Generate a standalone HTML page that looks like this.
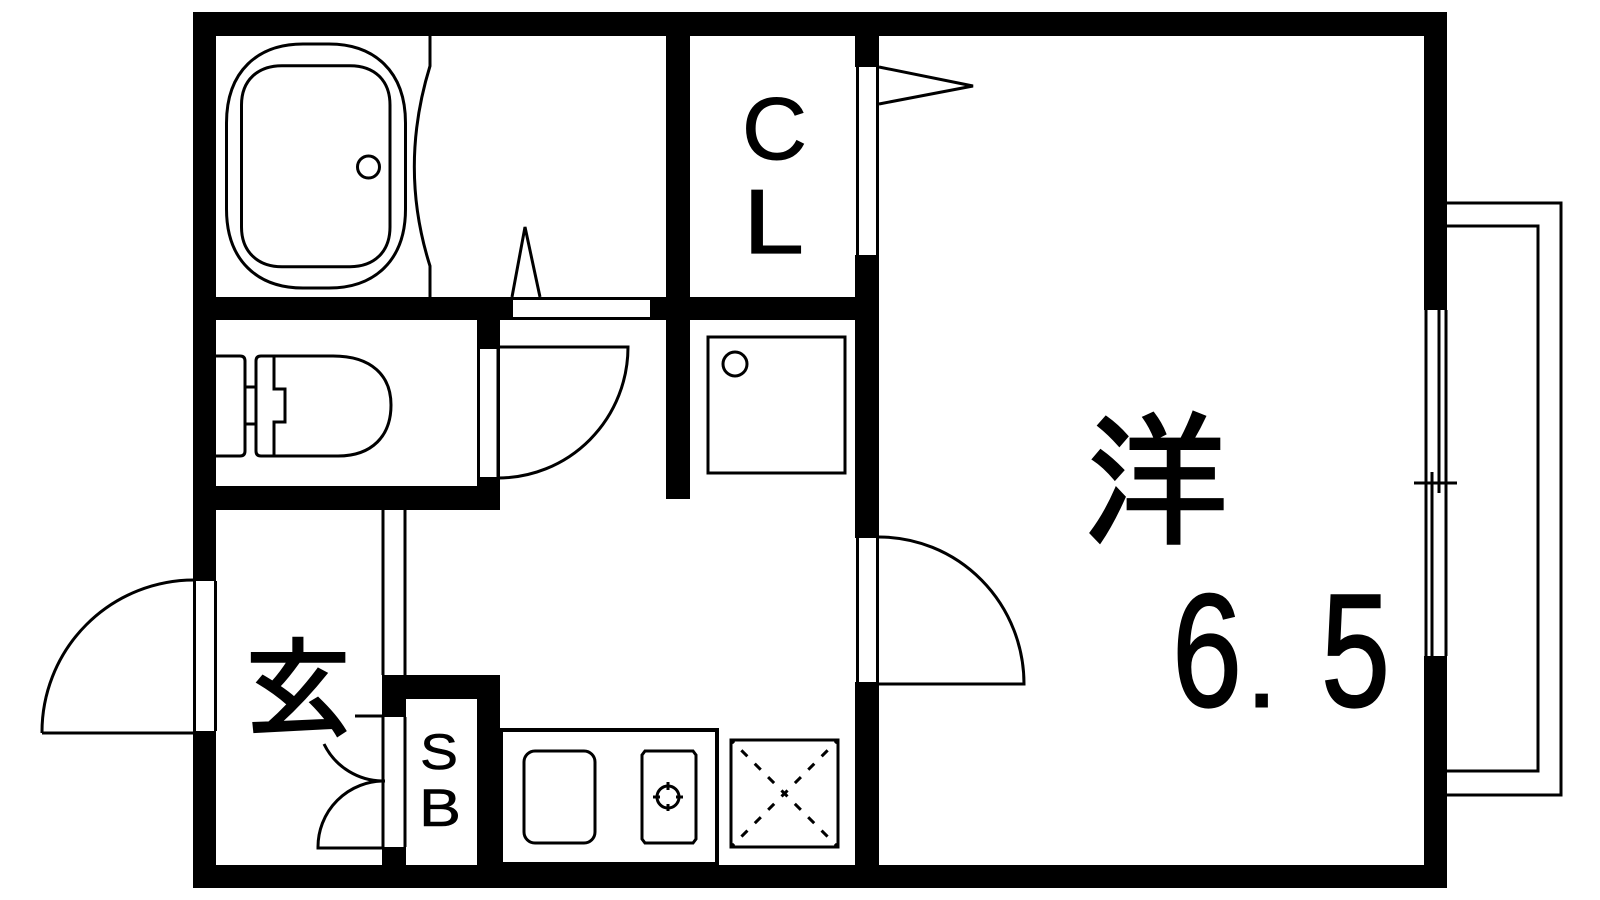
<!DOCTYPE html>
<html><head><meta charset="utf-8"><style>
html,body{margin:0;padding:0;background:#fff}svg{display:block}
</style></head><body>
<svg width="1600" height="900" viewBox="0 0 1600 900" xmlns="http://www.w3.org/2000/svg">
<rect width="1600" height="900" fill="#fff"/>
<!-- balcony -->
<g fill="none" stroke="#000" stroke-width="3">
<path d="M1447 203H1561V795H1447"/>
<path d="M1447 226H1538V771H1447"/>
</g>
<!-- walls -->
<g fill="#000">
<rect x="193" y="12" width="1254" height="24"/>
<rect x="193" y="865" width="1254" height="23"/>
<rect x="193" y="12" width="23" height="876"/>
<rect x="1424" y="12" width="23" height="876"/>
<rect x="193" y="297" width="686" height="23"/>
<rect x="666" y="36" width="24" height="463"/>
<rect x="855" y="36" width="24" height="850"/>
<rect x="193" y="486" width="307" height="24"/>
<rect x="477" y="297" width="23" height="213"/>
<rect x="382" y="675" width="118" height="24"/>
<rect x="477" y="675" width="23" height="200"/>
<rect x="382" y="675" width="24" height="200"/>
<rect x="500" y="728" width="219" height="4"/>
<rect x="500" y="728" width="3" height="140"/>
<rect x="500" y="862" width="219" height="5"/>
<rect x="715" y="728" width="4" height="138"/>
</g>
<!-- openings -->
<g fill="#fff">
<rect x="513" y="300" width="137" height="17"/>
<rect x="480" y="349" width="18" height="128"/>
<rect x="855" y="67" width="24" height="188"/>
<rect x="855" y="538" width="24" height="144"/>
<rect x="193" y="581" width="24" height="150"/>
<rect x="382" y="717" width="24" height="130"/>
<rect x="1424" y="310" width="23" height="346"/>
<rect x="382" y="510" width="24" height="165"/>
</g>
<g fill="none" stroke="#000" stroke-width="3">
<!-- wall thin lines -->
<path d="M383 510V675M405 510V675M383 717V847M405 717V847"/>
<path d="M1426 310V656M1446 310V656M1432 472V656M1439 310V493M1414 483H1457"/>
<path d="M194.500 581V731M215.500 581V731"/>
<!-- bath -->
<path d="M226.500 123C226.500 71 258 44 303 44H329C374 44 405.500 71 405.500 123V209C405.500 261 374 288 329 288H303C258 288 226.500 261 226.500 209Z"/>
<path d="M241.500 105C241.500 80 258 65.700 282 65.700H350C374 65.700 390 80 390 105V227C390 252 374 266.700 350 266.700H282C258 266.700 241.500 252 241.500 227Z"/>
<circle cx="368.500" cy="167" r="11"/>
<path d="M430 36V66C409 134 409 200 430 266V297"/>
<path d="M512 297L525 227L540 297"/>
<!-- toilet -->
<path d="M216 356H240Q245 356 245 361V451Q245 456 240 456H216"/>
<path d="M245 387H256M245 424H256"/>
<path d="M333 356C372 356 391 376 391 405C391 436 372 456 338 456H261Q256 456 256 451V361Q256 356 261 356Z"/>
<path d="M274 356V389H285V422H274V456"/>
<!-- doors -->
<path d="M498 347H628A130 131 0 0 1 498 478V347"/>
<path d="M42 733A152 152 0 0 1 194 580M42 733H194"/>
<path d="M879 537A145 147 0 0 1 1024 684H879"/>
<path d="M355 716H384M324 744A66 66 0 0 0 385 781M385 781A66 66 0 0 0 318 848H384"/>
<path d="M857.500 67V255M877.500 67V255M857.500 538V682M877.500 538V682"/>
<path d="M879 67L973 86L879 104"/>
<!-- washer -->
<rect x="708" y="337" width="137" height="136"/>
<circle cx="735" cy="364" r="12"/>
<!-- kitchen -->
<rect x="524" y="751" width="71" height="92" rx="11"/>
<path d="M645 751H693L696 755V839L693 843H645L642 839V755Z"/>
<circle cx="668" cy="797" r="11"/>
<path d="M668 782V790M668 804V811M653 797H660M676 797H683"/>
<rect x="731" y="740" width="107" height="107"/>
<path d="M731 740L838 847M838 740L731 847" stroke-dasharray="8.500 10.400" stroke-dashoffset="4.250"/>
</g>
<!-- labels -->
<g fill="#000" stroke="#000" font-family="'Liberation Sans','Noto Sans CJK JP',sans-serif">
<text x="742" y="159" font-size="88" textLength="65" lengthAdjust="spacingAndGlyphs" stroke-width="1">C</text>
<text x="743" y="253" font-size="91" textLength="61" lengthAdjust="spacingAndGlyphs" stroke-width="1.2">L</text>
<text x="420" y="769" font-size="50" textLength="38" lengthAdjust="spacingAndGlyphs" stroke-width="0.6">S</text>
<text x="419" y="826" font-size="53" textLength="42" lengthAdjust="spacingAndGlyphs" stroke-width="0.6">B</text>
<text x="1172" y="706" font-size="161" textLength="70" lengthAdjust="spacingAndGlyphs" stroke-width="2">6</text>
<text x="1245" y="707" font-size="120" stroke-width="1">.</text>
<text x="1321" y="706" font-size="161" textLength="69" lengthAdjust="spacingAndGlyphs" stroke-width="2">5</text>
<text x="1083" y="533" font-size="146" font-family="'IPAGothic','Noto Sans CJK JP',sans-serif" stroke-width="3">洋</text>
<text x="246" y="726" font-size="104" font-family="'Noto Sans CJK JP',sans-serif" stroke-width="3">玄</text>
</g>
</svg>
</body></html>
